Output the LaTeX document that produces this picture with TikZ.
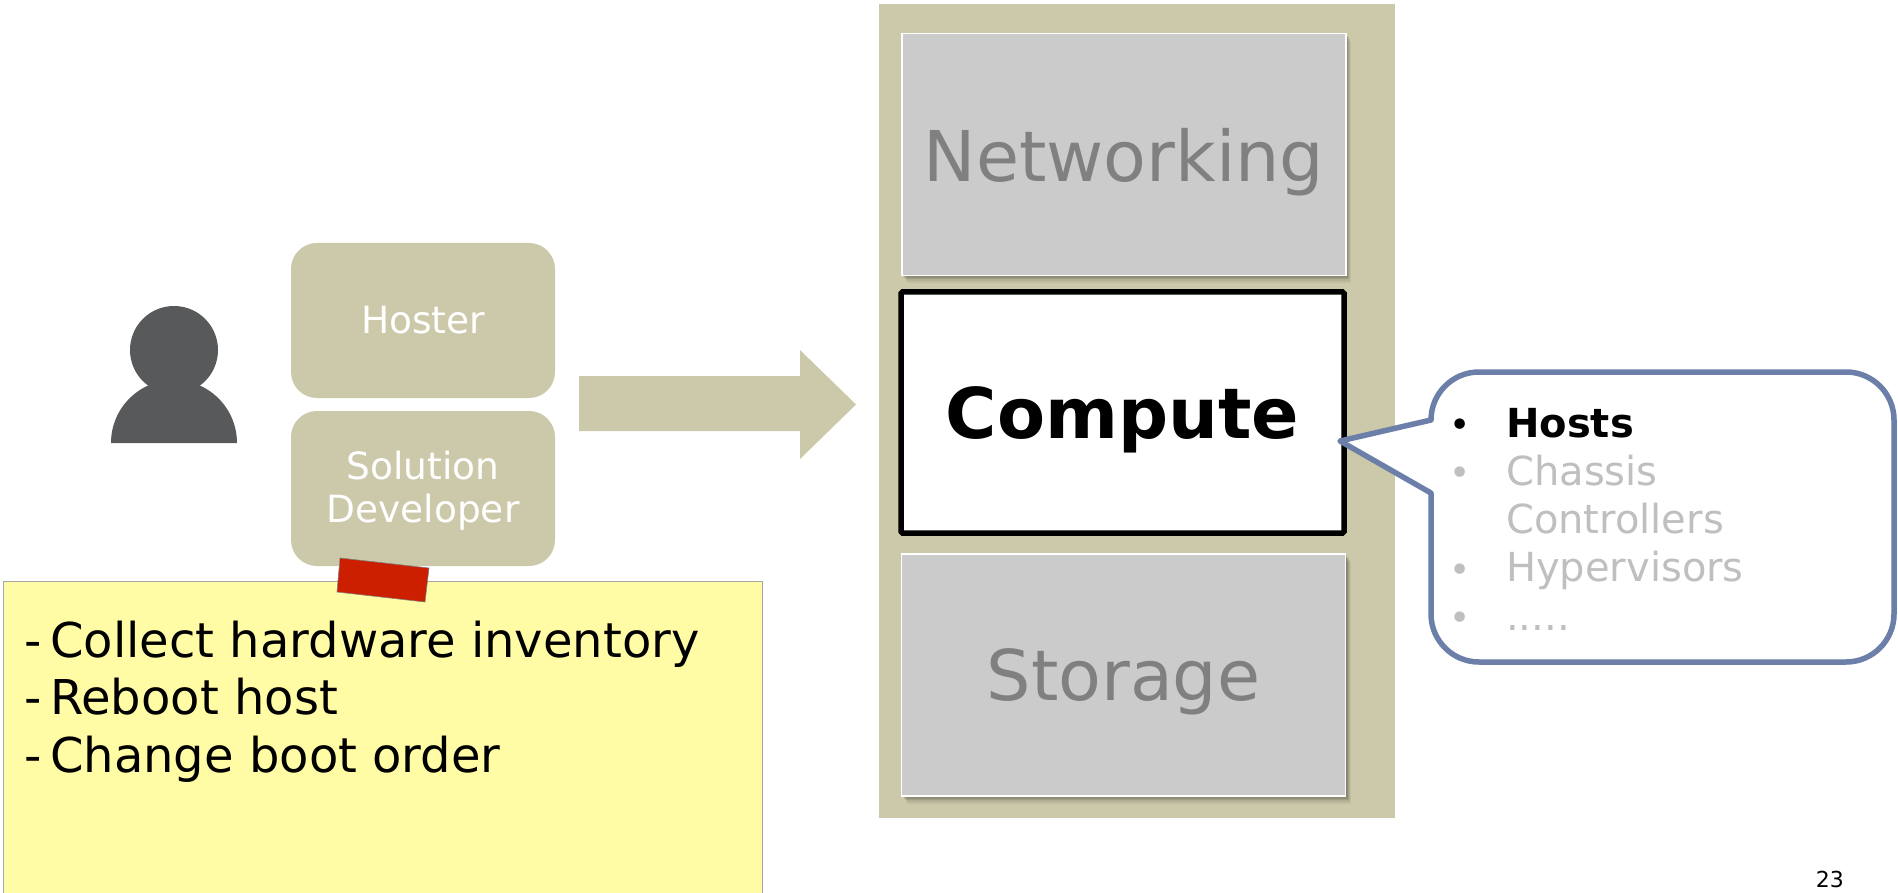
\documentclass[tikz,border=0pt]{standalone}
\usepackage{fontspec}
\setmainfont{DejaVu Sans}
\usetikzlibrary{shapes.geometric}
\definecolor{tan}{HTML}{CBC9A9}
\definecolor{boxgrey}{HTML}{CBCBCB}
\definecolor{txtgrey}{HTML}{808080}
\definecolor{lightgrey}{HTML}{BFBFBF}
\definecolor{person}{HTML}{58595B}
\definecolor{tape}{HTML}{CC1F00}
\definecolor{note}{HTML}{FFFCA5}
\definecolor{callout}{HTML}{6B7FA9}
\newcommand{\fsz}[1]{\fontsize{#1}{#1}\selectfont}
\tikzset{
  softshadow/.style={preaction={fill=black,fill opacity=.10,transform canvas={xshift=1pt,yshift=-1pt}},
                     preaction={fill=black,fill opacity=.10,transform canvas={xshift=2pt,yshift=-2.5pt}},
                     preaction={fill=black,fill opacity=.10,transform canvas={xshift=3pt,yshift=-4pt}},
                     preaction={fill=black,fill opacity=.07,transform canvas={xshift=4pt,yshift=-6pt}},
                     preaction={fill=black,fill opacity=.05,transform canvas={xshift=5pt,yshift=-8pt}}},
  layerbox/.style={rectangle,draw=white,line width=1.6pt,fill=boxgrey,text=txtgrey,inner sep=0pt,
                   minimum width=444pt,minimum height=242pt,font=\fsz{70},softshadow,text height=53pt,text depth=2pt},
  rolebox/.style={rectangle,rounded corners=26pt,fill=tan,text=white,inner sep=0pt,align=center,
                  minimum width=264pt,minimum height=155pt,font=\fontsize{37.5}{43}\selectfont},
  notetext/.style={anchor=base west,inner sep=0pt,text=black,font=\fsz{48}},
  listtext/.style={anchor=base west,inner sep=0pt,text=lightgrey,font=\fsz{40}},
  bulletmark/.style={anchor=base,inner sep=0pt,text=lightgrey,font=\fsz{36}}
}
\begin{document}
\begin{tikzpicture}[x=1pt,y=-1pt]
\useasboundingbox (0,0) rectangle (1898,893);
\fill[white] (0,0) rectangle (1898,893);
% stack panel
\node[rectangle,fill=tan,inner sep=0pt,minimum width=515.5pt,minimum height=814pt] (panel) at (1136.75,411) {};
\node[layerbox,text height=56pt] (net) at (1124,154.5) {Networking};
\node[rectangle,draw=black,line width=5.5pt,fill=white,rounded corners=1.5pt,inner sep=0pt,
      minimum width=443pt,minimum height=241pt,font=\bfseries\fsz{70},text height=53pt,text depth=2pt] (comp) at (1122.5,412.5) {Compute};
\node[layerbox] (stor) at (1123.5,675) {Storage};
% person
\fill[person] (111,443) arc[start angle=180,end angle=360,radius=63] -- cycle;
\node[circle,fill=person,minimum size=88pt,inner sep=0pt] (head) at (174,350) {};
% roles
\node[rolebox] (hoster) at (423,320.5) {Hoster};
\node[rolebox] (dev) at (423,488.5) {\rule{0pt}{32pt}Solution\\Developer};
% arrow
\fill[tan] (579,376) -- (800,376) -- (800,350) -- (856,404.5) -- (800,459) -- (800,431) -- (579,431) -- cycle;
% note
\fill[note] (3,581) rectangle (762.5,893);
\draw[gray!70,line width=1pt] (3,893) -- (3,581) -- (762.5,581) -- (762.5,893);
\fill[tape,draw=gray,line width=.6pt] (340,558) -- (429,568) -- (425,602) -- (337,592) -- cycle;
\node[notetext] (n1) at (24,657.5) {\makebox[26pt][l]{-}Collect hardware inventory};
\node[notetext] (n2) at (24,714.5) {\makebox[26pt][l]{-}Reboot host};
\node[notetext] (n3) at (24,772.5) {\makebox[26pt][l]{-}Change boot order};
% callout
\draw[callout,line width=5.5pt,fill=white,line join=round]
  (1431,420) -- (1340,441) -- (1431,493) -- (1431,614)
  .. controls (1431,640.5) and (1452.5,662) .. (1479,662) -- (1846,662)
  .. controls (1872.5,662) and (1894,640.5) .. (1894,614) -- (1894,420)
  .. controls (1894,393.5) and (1872.5,372) .. (1846,372) -- (1479,372)
  .. controls (1452.5,372) and (1431,393.5) .. (1431,420) -- cycle;
\node[bulletmark,text=black] (b1) at (1460,437) {•};
\node[bulletmark] (b2) at (1460,485) {•};
\node[bulletmark] (b3) at (1460,582) {•};
\node[bulletmark] (b4) at (1460,630) {•};
\node[listtext,text=black,font=\bfseries\fsz{40}] (l1) at (1506,437) {Hosts};
\node[listtext] (l2) at (1506,485) {Chassis};
\node[listtext] (l3) at (1506,533) {Controllers};
\node[listtext] (l4) at (1506,581) {Hypervisors};
\node[listtext] (l5) at (1506,630) {.....};
\node[anchor=base east,inner sep=0pt,font=\fsz{22}] (page) at (1844,887) {23};
\end{tikzpicture}
\end{document}
